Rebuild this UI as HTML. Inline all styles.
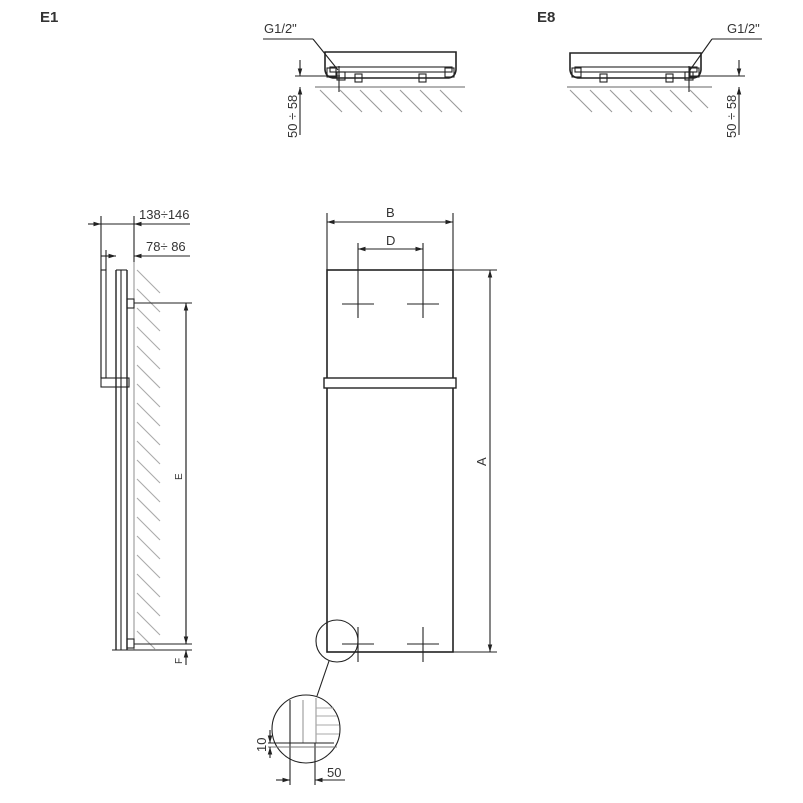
<!DOCTYPE html>
<html><head><meta charset="utf-8"><style>
html,body{margin:0;padding:0;background:#fff}
svg{display:block}
text{font-family:"Liberation Sans",sans-serif;fill:#333}
</style></head><body>
<svg width="803" height="803" viewBox="0 0 803 803" xmlns="http://www.w3.org/2000/svg">
<defs>
<marker id="a" viewBox="0 0 10 10" refX="10" refY="5" markerWidth="7" markerHeight="7" orient="auto-start-reverse"><path d="M0,2 L10,5 L0,8 z" fill="#222"/></marker>
</defs>
<text x="40" y="22" font-size="15" font-weight="bold" fill="#222">E1</text>
<text x="537" y="22" font-size="15" font-weight="bold" fill="#222">E8</text>

<!-- E1 top view -->
<g stroke="#222" fill="none" stroke-width="1.1">
<path d="M325,52 H456 V70 Q455,78 447,78 H335 Q326,78 325,70 Z" stroke-width="1.6"/>
<rect x="330" y="67" width="122" height="5"/>
<rect x="327" y="68" width="9" height="9"/>
<rect x="445" y="68" width="9" height="9"/>
<rect x="337" y="72" width="8" height="8"/>
<rect x="355" y="74" width="7" height="8"/>
<rect x="419" y="74" width="7" height="8"/>
<line x1="315" y1="87" x2="465" y2="87" stroke="#666"/>
<g stroke="#999"><line x1="320" y1="90" x2="342" y2="112"/><line x1="340" y1="90" x2="362" y2="112"/><line x1="360" y1="90" x2="382" y2="112"/><line x1="380" y1="90" x2="402" y2="112"/><line x1="400" y1="90" x2="422" y2="112"/><line x1="420" y1="90" x2="442" y2="112"/><line x1="440" y1="90" x2="462" y2="112"/></g>
<line x1="263" y1="39" x2="313" y2="39"/><line x1="313" y1="39" x2="338" y2="70"/>
<line x1="300" y1="60" x2="300" y2="76" marker-end="url(#a)"/>
<line x1="300" y1="135" x2="300" y2="87" marker-end="url(#a)"/>
<line x1="295" y1="76" x2="340" y2="76"/>
<line x1="339" y1="66" x2="339" y2="92"/>
</g>
<text x="264" y="33" font-size="13">G1/2"</text>
<text transform="translate(297,138) rotate(-90)" font-size="13">50 ÷ 58</text>

<!-- E8 top view -->
<g stroke="#222" fill="none" stroke-width="1.1">
<path d="M570,53 H701 V70 Q700,78 692,78 H580 Q571,78 570,70 Z" stroke-width="1.6"/>
<rect x="575" y="67" width="122" height="5"/>
<rect x="572" y="68" width="9" height="9"/>
<rect x="690" y="68" width="9" height="9"/>
<rect x="685" y="72" width="8" height="8"/>
<rect x="600" y="74" width="7" height="8"/>
<rect x="666" y="74" width="7" height="8"/>
<line x1="567" y1="87" x2="712" y2="87" stroke="#666"/>
<g stroke="#999"><line x1="570" y1="90" x2="592" y2="112"/><line x1="590" y1="90" x2="612" y2="112"/><line x1="610" y1="90" x2="632" y2="112"/><line x1="630" y1="90" x2="652" y2="112"/><line x1="650" y1="90" x2="672" y2="112"/><line x1="670" y1="90" x2="692" y2="112"/><line x1="690" y1="90" x2="708" y2="108"/></g>
<line x1="712" y1="39" x2="762" y2="39"/><line x1="712" y1="39" x2="690" y2="70"/>
<line x1="739" y1="60" x2="739" y2="76" marker-end="url(#a)"/>
<line x1="739" y1="135" x2="739" y2="87" marker-end="url(#a)"/>
<line x1="690" y1="76" x2="745" y2="76"/>
<line x1="689" y1="66" x2="689" y2="92"/>
</g>
<text x="727" y="33" font-size="13">G1/2"</text>
<text transform="translate(736,138) rotate(-90)" font-size="13">50 ÷ 58</text>

<!-- Side view -->
<g stroke="#222" fill="none" stroke-width="1.1">
<line x1="134" y1="262" x2="134" y2="650" stroke="#999"/>
<g stroke="#aaa">
<line x1="137" y1="270" x2="160" y2="293"/><line x1="137" y1="289" x2="160" y2="312"/><line x1="137" y1="308" x2="160" y2="331"/><line x1="137" y1="327" x2="160" y2="350"/><line x1="137" y1="346" x2="160" y2="369"/><line x1="137" y1="365" x2="160" y2="388"/><line x1="137" y1="384" x2="160" y2="407"/><line x1="137" y1="403" x2="160" y2="426"/><line x1="137" y1="422" x2="160" y2="445"/><line x1="137" y1="441" x2="160" y2="464"/><line x1="137" y1="460" x2="160" y2="483"/><line x1="137" y1="479" x2="160" y2="502"/><line x1="137" y1="498" x2="160" y2="521"/><line x1="137" y1="517" x2="160" y2="540"/><line x1="137" y1="536" x2="160" y2="559"/><line x1="137" y1="555" x2="160" y2="578"/><line x1="137" y1="574" x2="160" y2="597"/><line x1="137" y1="593" x2="160" y2="616"/><line x1="137" y1="612" x2="160" y2="635"/><line x1="137" y1="631" x2="155" y2="649"/>
</g>
<line x1="116" y1="270" x2="116" y2="650" stroke-width="1.4"/>
<line x1="121" y1="270" x2="121" y2="650"/>
<line x1="127" y1="270" x2="127" y2="650" stroke-width="1.4"/>
<line x1="116" y1="270" x2="127" y2="270"/>
<rect x="101" y="270" width="5" height="108"/>
<rect x="101" y="378" width="28" height="9"/>
<rect x="127" y="299" width="7" height="9"/>
<rect x="127" y="639" width="7" height="9"/>
<line x1="112" y1="650" x2="192" y2="650"/>
<line x1="134" y1="303" x2="192" y2="303"/>
<line x1="134" y1="644" x2="192" y2="644"/>
<line x1="101" y1="216" x2="101" y2="378"/>
<line x1="134" y1="216" x2="134" y2="262"/>
<line x1="106" y1="250" x2="106" y2="270"/>
<line x1="88" y1="224" x2="101" y2="224" marker-end="url(#a)"/>
<line x1="190" y1="224" x2="134" y2="224" marker-end="url(#a)"/>
<line x1="101" y1="224" x2="134" y2="224"/>
<line x1="101" y1="256" x2="116" y2="256" marker-end="url(#a)"/>
<line x1="190" y1="256" x2="134" y2="256" marker-end="url(#a)"/>
<line x1="186" y1="644" x2="186" y2="303" marker-end="url(#a)"/>
<line x1="186" y1="303" x2="186" y2="644" marker-end="url(#a)"/>
<line x1="186" y1="665" x2="186" y2="650" marker-end="url(#a)"/>
</g>
<text x="139" y="219" font-size="13">138÷146</text>
<text x="146" y="251" font-size="13">78÷ 86</text>
<text transform="translate(182,480) rotate(-90)" font-size="10">E</text>
<text transform="translate(182,664) rotate(-90)" font-size="10">F</text>

<!-- Front view -->
<g stroke="#222" fill="none" stroke-width="1.1">
<rect x="327" y="270" width="126" height="382" stroke-width="1.6"/>
<rect x="324" y="378" width="132" height="10" fill="#fff" stroke-width="1.4"/>
<line x1="327" y1="213" x2="327" y2="270"/>
<line x1="453" y1="213" x2="453" y2="270"/>
<line x1="327" y1="222" x2="453" y2="222" marker-start="url(#a)" marker-end="url(#a)"/>
<line x1="358" y1="243" x2="358" y2="318"/>
<line x1="423" y1="243" x2="423" y2="318"/>
<line x1="358" y1="249" x2="423" y2="249" marker-start="url(#a)" marker-end="url(#a)"/>
<line x1="342" y1="304" x2="374" y2="304"/>
<line x1="407" y1="304" x2="439" y2="304"/>
<line x1="358" y1="627" x2="358" y2="662"/>
<line x1="423" y1="627" x2="423" y2="662"/>
<line x1="342" y1="644" x2="374" y2="644"/>
<line x1="407" y1="644" x2="439" y2="644"/>
<line x1="453" y1="270" x2="497" y2="270"/>
<line x1="453" y1="652" x2="497" y2="652"/>
<line x1="490" y1="270" x2="490" y2="652" marker-start="url(#a)" marker-end="url(#a)"/>
<circle cx="337" cy="641" r="21"/>
<line x1="329" y1="661" x2="317" y2="696"/>
<circle cx="306" cy="729" r="34"/>
<line x1="290" y1="700" x2="290" y2="785"/>
<line x1="303" y1="700" x2="303" y2="743" stroke="#999"/>
<line x1="316" y1="698" x2="316" y2="743" stroke="#999"/>
<line x1="315" y1="743" x2="315" y2="785"/>
<g stroke="#aaa"><line x1="316" y1="708" x2="334" y2="708"/><line x1="316" y1="716" x2="337" y2="716"/><line x1="316" y1="725" x2="339" y2="725"/><line x1="316" y1="734" x2="339" y2="734"/></g>
<line x1="268" y1="743" x2="334" y2="743"/>
<line x1="268" y1="747" x2="337" y2="747" stroke="#777"/>
<line x1="270" y1="730" x2="270" y2="743" marker-end="url(#a)"/>
<line x1="270" y1="758" x2="270" y2="747" marker-end="url(#a)"/>
<line x1="276" y1="780" x2="290" y2="780" marker-end="url(#a)"/>
<line x1="345" y1="780" x2="315" y2="780" marker-end="url(#a)"/>
</g>
<text x="386" y="217" font-size="13">B</text>
<text x="386" y="245" font-size="13">D</text>
<text transform="translate(486,466) rotate(-90)" font-size="13">A</text>
<text transform="translate(266,752) rotate(-90)" font-size="13">10</text>
<text x="327" y="777" font-size="13">50</text>
</svg>
</body></html>
